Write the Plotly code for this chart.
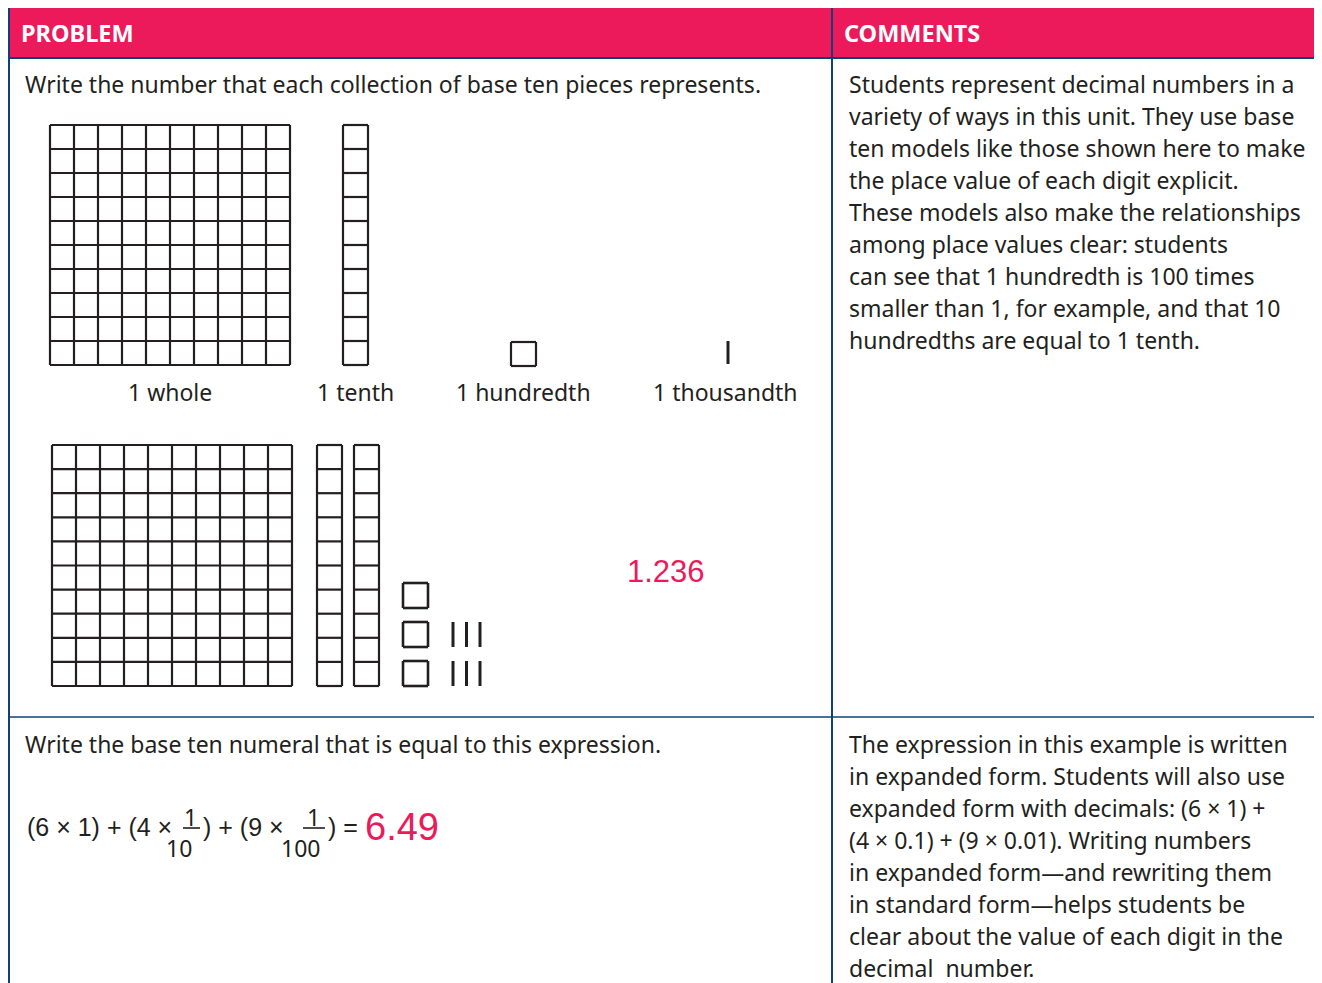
import plotly.graph_objects as go

# ---- data ----
HEADERS = ["PROBLEM", "COMMENTS"]
PIECE_LABELS = ["1 whole", "1 tenth", "1 hundredth", "1 thousandth"]
MODEL_COUNTS = [1, 2, 3, 6]          # wholes, tenths, hundredths, thousandths
MODEL_ANSWER = "1.236"
EXPANDED_DIGITS = [6, 4, 9]
EXPANDED_DENOMS = [1, 10, 100]
EXPANDED_ANSWER = "6.49"
PROMPTS = [
    "Write the number that each collection of base ten pieces represents.",
    "Write the base ten numeral that is equal to this expression.",
]
COMMENTS_TOP = [
    "Students represent decimal numbers in a",
    "variety of ways in this unit. They use base",
    "ten models like those shown here to make",
    "the place value of each digit explicit.",
    "These models also make the relationships",
    "among place values clear: students",
    "can see that 1 hundredth is 100 times",
    "smaller than 1, for example, and that 10",
    "hundredths are equal to 1 tenth.",
]
COMMENTS_BOTTOM = [
    "The expression in this example is written",
    "in expanded form. Students will also use",
    "expanded form with decimals: (6 × 1) +",
    "(4 × 0.1) + (9 × 0.01). Writing numbers",
    "in expanded form—and rewriting them",
    "in standard form—helps students be",
    "clear about the value of each digit in the",
    "decimal  number.",
]

PINK = "#ED1A5B"
NAVY = "#123f7a"
INK = "#231f20"
TEXT_FONT = "Noto Sans"
W, H = 1322, 983
PAD = 8   # page body margin: the axes start 8px in, so ranges start at 8


def grid(x0, y0, cols, rows, cw, ch):
    xs, ys = [], []
    for c in range(cols + 1):
        xs += [x0 + c * cw, x0 + c * cw, None]
        ys += [y0, y0 + rows * ch, None]
    for r in range(rows + 1):
        xs += [x0, x0 + cols * cw, None]
        ys += [y0 + r * ch, y0 + r * ch, None]
    return xs, ys


def sticks(xlist, ytop, length):
    xs, ys = [], []
    for x in xlist:
        xs += [x, x, None]
        ys += [ytop, ytop + length, None]
    return xs, ys


fig = go.Figure()


def add_lines(xy, width=2.2):
    fig.add_trace(go.Scatter(x=xy[0], y=xy[1], mode="lines",
                             line=dict(color=INK, width=width),
                             hoverinfo="skip", showlegend=False))


# key row: one of each piece
add_lines(grid(50, 125, 10, 10, 24, 24))
add_lines(grid(343, 125, 1, 10, 25, 24))
add_lines(grid(511, 342, 1, 1, 25, 24))
add_lines(sticks([728], 341, 23), width=3)
label_x = [170, 355, 523, 725]
for lab, lx in zip(PIECE_LABELS, label_x):
    fig.add_annotation(x=lx, y=392, text=lab, showarrow=False,
                       font=dict(family=TEXT_FONT, size=23, color=INK))

# example collection
n_whole, n_tenth, n_hund, n_thou = MODEL_COUNTS
for i in range(n_whole):
    add_lines(grid(52 + i * 260, 445, 10, 10, 24, 24.1))
for i in range(n_tenth):
    add_lines(grid(317 + i * 37, 445, 1, 10, 25, 24.1))
for i in range(n_hund):
    add_lines(grid(403, 661 - i * 39, 1, 1, 25, 25), width=2.6)
for i in range(n_thou):
    row, col = divmod(i, 3)
    add_lines(sticks([453 + col * 13.5], 661 - row * 39, 25), width=3)
fig.add_annotation(x=666, y=571, text=MODEL_ANSWER, showarrow=False,
                   font=dict(family="Liberation Sans", size=31, color=PINK))

# expanded form expression
d0, d1, d2 = EXPANDED_DIGITS
expr_font = dict(family="Liberation Sans", size=25, color=INK)
fig.add_annotation(x=25, y=827, xanchor="left", text=f"({d0} × {EXPANDED_DENOMS[0]}) + ({d1} ×",
                   showarrow=False, font=expr_font)
fig.add_annotation(x=201, y=827, xanchor="left", text=f") + ({d2} ×", showarrow=False, font=expr_font)
fig.add_annotation(x=326, y=827, xanchor="left", text=") =", showarrow=False, font=expr_font)
frac_font = dict(family=TEXT_FONT, size=23, color=INK)
for den, nx, bar, dx in [(EXPANDED_DENOMS[1], 190, (183, 200), 179),
                         (EXPANDED_DENOMS[2], 313, (303, 325), 300)]:
    fig.add_annotation(x=nx, y=817, text="1", showarrow=False, font=frac_font)
    fig.add_annotation(x=dx, y=848, text=str(den), showarrow=False, font=frac_font)
    fig.add_shape(type="line", x0=bar[0], x1=bar[1], y0=828, y1=828,
                  line=dict(color=INK, width=1.6))
fig.add_annotation(x=363, y=827, xanchor="left", text=EXPANDED_ANSWER, showarrow=False,
                   font=dict(family="Liberation Sans", size=38, color=PINK))

# prompts and comments
body_font = dict(family=TEXT_FONT, size=23, color=INK)
fig.add_annotation(x=23, y=84, xanchor="left", text=PROMPTS[0], showarrow=False, font=body_font)
fig.add_annotation(x=23, y=744, xanchor="left", text=PROMPTS[1], showarrow=False, font=body_font)
for i, line in enumerate(COMMENTS_TOP):
    fig.add_annotation(x=847, y=84 + i * 32, xanchor="left", text=line, showarrow=False, font=body_font)
for i, line in enumerate(COMMENTS_BOTTOM):
    fig.add_annotation(x=847, y=744 + i * 32, xanchor="left", text=line, showarrow=False, font=body_font)

# table frame
fig.add_shape(type="rect", x0=9, x1=1321, y0=7, y1=58, fillcolor=PINK,
              line=dict(color=NAVY, width=2), layer="below")
for x in [9, 832, 1321]:
    fig.add_shape(type="line", x0=x, x1=x, y0=7, y1=H + 5, line=dict(color=NAVY, width=2))
fig.add_shape(type="line", x0=9, x1=1321, y0=717, y1=717, line=dict(color=NAVY, width=1.5))
for hx, htxt in zip([19, 842], HEADERS):
    fig.add_annotation(x=hx, y=33, xanchor="left", text=f"<b>{htxt}</b>", showarrow=False,
                       font=dict(family=TEXT_FONT, size=23.5, color="white"))

fig.update_layout(
    width=W - PAD, height=H - PAD, margin=dict(l=0, r=0, t=0, b=0),
    paper_bgcolor="white", plot_bgcolor="white",
    xaxis=dict(range=[PAD, W], visible=False, fixedrange=True),
    yaxis=dict(range=[H, PAD], visible=False, fixedrange=True),
)
fig.write_html("out.html")
